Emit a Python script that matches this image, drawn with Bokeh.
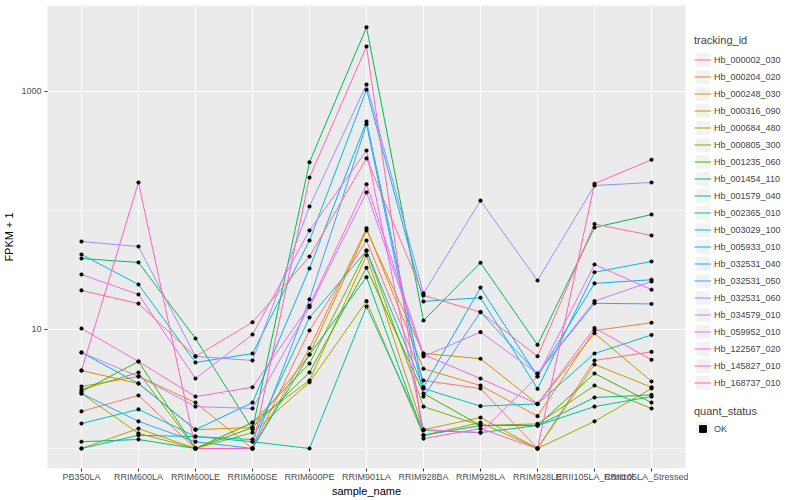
from bokeh.plotting import figure
from bokeh.models import (FactorRange, Range1d, FixedTicker, PrintfTickFormatter,
                          Legend, LegendItem)
from bokeh.layouts import row
from bokeh.embed import file_html
from bokeh.resources import INLINE

samples = ["PB350LA", "RRIM600LA", "RRIM600LE", "RRIM600SE", "RRIM600PE", "RRIM901LA",
           "RRIM928BA", "RRIM928LA", "RRIM928LE", "RRII105LA_Control", "RRII105LA_Stressed"]

tracking_ids = ["Hb_000002_030", "Hb_000204_020", "Hb_000248_030", "Hb_000316_090",
                "Hb_000684_480", "Hb_000805_300", "Hb_001235_060", "Hb_001454_110",
                "Hb_001579_040", "Hb_002365_010", "Hb_003029_100", "Hb_005933_010",
                "Hb_032531_040", "Hb_032531_050", "Hb_032531_060", "Hb_034579_010",
                "Hb_059952_010", "Hb_122567_020", "Hb_145827_010", "Hb_168737_010"]

colors = ["#F8766D", "#EA8331", "#D89000", "#C09B00", "#A3A500", "#7CAE00", "#39B600",
          "#00BB4E", "#00BF7D", "#00C1A3", "#00BFC4", "#00BAE0", "#00B0F6", "#35A2FF",
          "#9590FF", "#C77CFF", "#E76BF3", "#FA62DB", "#FF62BC", "#FF6C91"]

# FPKM + 1 per tracking_id, in sample order
hb_000002_030 = [2.05, 2.79, 1, 1, 9.8, 56, 3.73, 3.19, 1, 5.49, 6.49]
hb_000204_020 = [3.32, 4.03, 2.43, 1, 6.97, 71, 4.68, 3.38, 1.87, 9.8, 11.4]
hb_000248_030 = [4.52, 3.52, 1.44, 1.5, 6.16, 68, 6.3, 5.68, 2.37, 9.3, 3.66]
hb_000316_090 = [1, 1.47, 1, 1.65, 3.73, 42, 1.44, 1.82, 1, 5.08, 3.27]
hb_000684_480 = [2.9, 1.34, 1, 1.36, 3.6, 17.3, 1.29, 1.65, 1, 1.69, 3.19]
hb_000805_300 = [3.13, 4.35, 1, 1.65, 5.18, 46, 2.25, 1.56, 1.61, 3.38, 2.17]
hb_001235_060 = [3.01, 5.38, 1, 1.5, 4.36, 33, 2.9, 1.56, 1.56, 4.27, 2.43]
hb_001454_110 = [39.5, 36.6, 8.4, 1.45, 254, 3470, 11.9, 36.4, 7.43, 72, 92.5]
hb_001579_040 = [1.14, 1.19, 1, 1, 6.16, 27.5, 1.29, 1.56, 1.56, 2.68, 2.82]
hb_002365_010 = [1, 1.29, 1.26, 1.14, 1, 15.6, 1.42, 1.36, 1.56, 2.25, 2.73]
hb_003029_100 = [1.62, 2.13, 1.26, 1.19, 12.6, 46, 3.19, 2.27, 2.37, 6.28, 9.0]
hb_005933_010 = [42.7, 23.9, 5.28, 6.28, 56, 1035, 17.2, 18.5, 3.17, 30.3, 37.3]
hb_032531_040 = [6.41, 3.52, 1.44, 2.43, 32.6, 560, 3.27, 22.5, 4.03, 24.4, 26.2]
hb_032531_050 = [2.9, 1.69, 1.14, 1, 17.9, 530, 2.73, 14.0, 4.24, 16.6, 16.4]
hb_032531_060 = [54.9, 49.8, 5.94, 5.49, 108, 1145, 20.1, 121, 25.8, 162, 172]
hb_034579_010 = [6.41, 4.03, 2.25, 2.17, 15.4, 142, 5.94, 9.5, 4.27, 17.3, 25.3]
hb_059952_010 = [29, 19.7, 3.87, 9.08, 68, 319, 1.44, 1.36, 4.03, 35.2, 21.6]
hb_122567_020 = [10.2, 5.38, 2.73, 3.27, 15.9, 166, 6.16, 3.87, 2.37, 10.3, 5.56]
hb_145827_010 = [4.52, 172, 1, 1, 189, 2390, 1.21, 1.47, 1, 168, 267]
hb_168737_010 = [21.3, 16.5, 5.94, 11.5, 41, 274, 19.3, 14.0, 5.96, 77, 61.7]

series = [hb_000002_030, hb_000204_020, hb_000248_030, hb_000316_090, hb_000684_480,
          hb_000805_300, hb_001235_060, hb_001454_110, hb_001579_040, hb_002365_010,
          hb_003029_100, hb_005933_010, hb_032531_040, hb_032531_050, hb_032531_060,
          hb_034579_010, hb_059952_010, hb_122567_020, hb_145827_010, hb_168737_010]

quant_status = ["OK"]

FONT = "Liberation Sans"

p = figure(x_range=FactorRange(factors=samples, range_padding=0.096, range_padding_units="absolute"),
           y_axis_type="log", y_range=Range1d(0.679, 5280),
           frame_width=638, frame_height=463,
           output_backend="svg", toolbar_location=None,
           min_border_top=5, min_border_right=3, min_border_left=37, min_border_bottom=0,
           background_fill_color="#EBEBEB", border_fill_color="white", outline_line_color=None)

for vals, col in zip(series, colors):
    p.line(x=samples, y=vals, line_color=col, line_width=1.0)

all_x = []
all_y = []
for vals in series:
    all_x += samples
    all_y += vals
p.scatter(x=all_x, y=all_y, size=3.6, marker="circle", fill_color="black",
          line_color="black", line_width=0.5)

p.yaxis.ticker = FixedTicker(ticks=[10, 1000], minor_ticks=[1, 100])
p.yaxis.formatter = PrintfTickFormatter(format="%d")

for g in (p.xgrid, p.ygrid):
    g.grid_line_color = "white"
    g.grid_line_width = 1.1
p.ygrid.minor_grid_line_color = "white"
p.ygrid.minor_grid_line_width = 0.55

for ax in (p.xaxis, p.yaxis):
    ax.axis_line_color = None
    ax.major_tick_line_color = "#333333"
    ax.major_tick_out = 3
    ax.major_tick_in = 0
    ax.minor_tick_line_color = None
    ax.major_label_text_color = "#4D4D4D"
    ax.major_label_text_font = FONT
    ax.major_label_text_font_size = "9px"
    ax.axis_label_text_font = FONT
    ax.axis_label_text_font_size = "11px"
    ax.axis_label_text_font_style = "normal"
    ax.axis_label_text_color = "black"

p.xaxis.major_label_standoff = 0
p.xaxis.axis_label_standoff = 0
p.yaxis.major_label_standoff = 2
p.yaxis.axis_label_standoff = 3

p.xaxis.axis_label = "sample_name"
p.yaxis.axis_label = "FPKM + 1"

# legend panel
lf = figure(width=100, height=491, output_backend="svg", toolbar_location=None,
            x_range=Range1d(0, 1), y_range=Range1d(0, 1),
            min_border=0, outline_line_color=None, x_axis_type=None, y_axis_type=None)
lf.grid.visible = False

nan = float("nan")
items = []
for name, col in zip(tracking_ids, colors):
    bg = lf.quad(left=[nan], right=[nan], top=[nan], bottom=[nan],
                 fill_color="#F2F2F2", line_color=None)
    ln = lf.line(x=[nan], y=[nan], line_color=col, line_width=1.0)
    items.append(LegendItem(label=name, renderers=[bg, ln]))

leg1 = Legend(items=items, title="tracking_id", location=(6, 69),
              glyph_width=17, glyph_height=17, label_height=17, spacing=0,
              padding=0, margin=0, border_line_color=None, background_fill_alpha=0,
              label_text_font=FONT, label_text_font_size="9px", label_standoff=3,
              title_text_font=FONT, title_text_font_size="11px",
              title_text_font_style="normal", title_standoff=5)
lf.add_layout(leg1)

qitems = []
for q in quant_status:
    qbg = lf.quad(left=[nan], right=[nan], top=[nan], bottom=[nan],
                  fill_color="#F2F2F2", line_color=None)
    qpt = lf.scatter(x=[nan], y=[nan], marker="square", fill_color="black", line_color="black")
    qitems.append(LegendItem(label=q, renderers=[qbg, qpt]))

leg2 = Legend(items=qitems, title="quant_status", location=(6, 23),
              glyph_width=17, glyph_height=17, label_height=17, spacing=0,
              padding=0, margin=0, border_line_color=None, background_fill_alpha=0,
              label_text_font=FONT, label_text_font_size="9px", label_standoff=3,
              title_text_font=FONT, title_text_font_size="11px",
              title_text_font_style="normal", title_standoff=3)
lf.add_layout(leg2)

layout = row(p, lf)
open("out.html", "w").write(file_html(layout, INLINE))
